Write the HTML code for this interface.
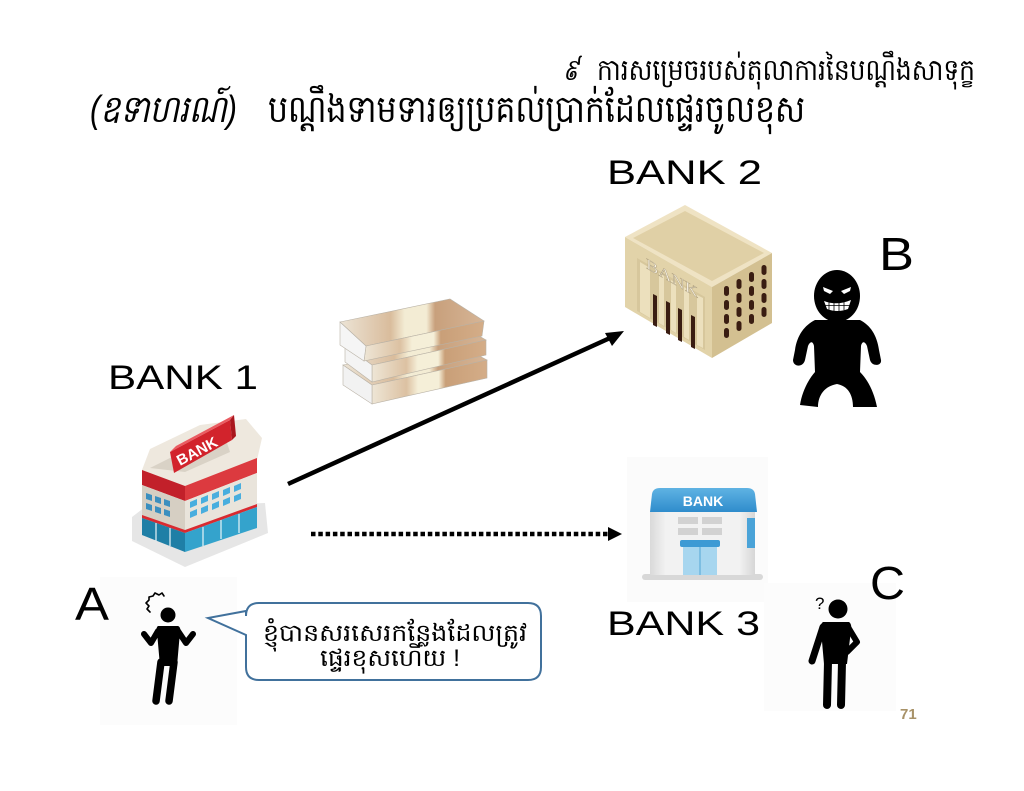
<!DOCTYPE html>
<html><head><meta charset="utf-8">
<style>
html,body{margin:0;padding:0;background:#fff;}
body{width:1024px;height:791px;overflow:hidden;}
svg{display:block;}
.lat{font-family:"Liberation Sans",sans-serif;fill:#000;}
.km{font-family:"Liberation Sans","Noto Sans CJK SC",sans-serif;fill:#000;}
</style></head>
<body>
<svg width="1024" height="791" viewBox="0 0 1024 791" xmlns="http://www.w3.org/2000/svg">
<defs>
<linearGradient id="mfront" x1="0" y1="0" x2="1" y2="0">
<stop offset="0" stop-color="#eee6d6"/><stop offset="0.3" stop-color="#dcc1a2"/>
<stop offset="0.4" stop-color="#f5efd8"/><stop offset="0.58" stop-color="#f5efd8"/>
<stop offset="0.64" stop-color="#c99f78"/><stop offset="1" stop-color="#d4ad88"/>
</linearGradient>
<linearGradient id="mtop" x1="0" y1="0" x2="1" y2="0">
<stop offset="0" stop-color="#ece4d6"/><stop offset="0.35" stop-color="#d9bc9c"/>
<stop offset="0.45" stop-color="#f3ecd4"/><stop offset="0.6" stop-color="#f3ecd4"/>
<stop offset="0.66" stop-color="#c8a07c"/><stop offset="1" stop-color="#d6b596"/>
</linearGradient>
<linearGradient id="b3roof" x1="0" y1="0" x2="0" y2="1">
<stop offset="0" stop-color="#5fb3e3"/><stop offset="1" stop-color="#2f8ccc"/>
</linearGradient>
<linearGradient id="b3body" x1="0" y1="0" x2="1" y2="0">
<stop offset="0" stop-color="#d9d9d9"/><stop offset="0.15" stop-color="#f2f2f2"/>
<stop offset="0.85" stop-color="#f2f2f2"/><stop offset="1" stop-color="#d6d6d6"/>
</linearGradient>
</defs>

<!-- faint photo backgrounds (drawn first) -->
<rect x="100" y="577" width="137" height="148" fill="#fcfcfc"/>
<rect x="627" y="457" width="141" height="145" fill="#fbfbfb"/>
<rect x="764" y="583" width="132" height="128" fill="#fcfcfc"/>

<!-- Title -->
<text class="km" x="563" y="80" font-size="30" font-style="italic" textLength="16" lengthAdjust="spacingAndGlyphs">៩</text>
<text class="km" x="597" y="80" font-size="30" textLength="378" lengthAdjust="spacingAndGlyphs">ការសម្រេចរបស់តុលាការនៃបណ្ដឹងសាទុក្ខ</text>
<text class="km" x="90" y="122" font-size="38" font-style="italic" textLength="147" lengthAdjust="spacingAndGlyphs">(ឧទាហរណ៍)</text>
<text class="km" x="268" y="122" font-size="38" textLength="537" lengthAdjust="spacingAndGlyphs">បណ្ដឹងទាមទារឲ្យប្រគល់ប្រាក់ដែលផ្ទេរចូលខុស</text>

<!-- Labels -->
<text class="lat" x="108" y="389" font-size="34" textLength="150" lengthAdjust="spacingAndGlyphs">BANK  1</text>
<text class="lat" x="607" y="184" font-size="34" textLength="155" lengthAdjust="spacingAndGlyphs">BANK  2</text>
<text class="lat" x="607" y="635" font-size="34" textLength="153" lengthAdjust="spacingAndGlyphs">BANK  3</text>
<text class="lat" x="879" y="270" font-size="46" textLength="35" lengthAdjust="spacingAndGlyphs">B</text>
<text class="lat" x="870" y="599" font-size="46" textLength="35" lengthAdjust="spacingAndGlyphs">C</text>
<text class="lat" x="75" y="620" font-size="46" textLength="34" lengthAdjust="spacingAndGlyphs">A</text>

<!-- Money stack -->
<g stroke="#b9b2a6" stroke-width="0.6">
<polygon points="343,365 455,343 487,360 372,385" fill="url(#mtop)"/>
<polygon points="372,385 487,360 487,378 372,404" fill="url(#mfront)"/>
<polygon points="343,365 372,385 372,404 343,385" fill="#f2f2f2"/>
<polygon points="345,345 455,322 486,340 372,365" fill="url(#mtop)"/>
<polygon points="372,365 486,340 486,355 372,382" fill="url(#mfront)"/>
<polygon points="345,345 372,365 372,382 345,362" fill="#f4f4f4"/>
<polygon points="340,322 450,299 484,321 366,346" fill="url(#mtop)"/>
<polygon points="366,346 484,321 482,336 364,361" fill="url(#mfront)"/>
<polygon points="340,322 366,346 364,361 340,345" fill="#f5f5f5"/>
</g>

<!-- Arrows -->
<line x1="288" y1="484" x2="610" y2="338" stroke="#000" stroke-width="4.5"/>
<polygon points="624,331 605,333 612,346" fill="#000"/>
<line x1="311" y1="534" x2="610" y2="534" stroke="#000" stroke-width="4.5" stroke-dasharray="4.5 2.8"/>
<polygon points="622,534 608,527 608,541" fill="#000"/>

<!-- BANK 1 (red/white) -->
<polygon points="132,517 145,507 265,503 268,533 185,567 132,541" fill="#e6e6e6"/>
<polygon points="142,470 150,449 200,425 246,419 262,438 257,460 185,488" fill="#eee8de"/>
<polygon points="150,468 190,448 226,440 230,452 185,472" fill="#d9d2c6"/>
<polygon points="170,452 230,420 232,440 174,473" fill="#d2232c"/>
<polygon points="170,452 176,446 234,415 230,420" fill="#ea5b61"/>
<polygon points="230,420 234,415 236,436 232,440" fill="#a9161d"/>
<text x="0" y="0" transform="translate(180,466) rotate(-28)" font-family="Liberation Sans,sans-serif" font-weight="bold" font-size="15" fill="#fff" textLength="44" lengthAdjust="spacingAndGlyphs">BANK</text>
<polygon points="142,470 185,486 185,501 142,485" fill="#c2202a"/>
<polygon points="185,486 257,458 257,473 185,501" fill="#dc3a3f"/>
<polygon points="142,485 185,501 185,552 142,531" fill="#d6cfc3"/>
<polygon points="185,501 257,473 257,528 185,552" fill="#e9e4db"/>
<g fill="#3b8fbf">
<polygon points="146,493 152,495 152,501 146,499"/><polygon points="155,496 161,498 161,504 155,502"/><polygon points="164,499 170,501 170,507 164,505"/>
<polygon points="146,503 152,505 152,511 146,509"/><polygon points="155,506 161,508 161,514 155,512"/><polygon points="164,509 170,511 170,517 164,515"/>
</g>
<g fill="#49aede">
<polygon points="190,502 197,499 197,505 190,508"/><polygon points="201,498 208,495 208,501 201,504"/><polygon points="212,494 219,491 219,497 212,500"/><polygon points="223,490 230,487 230,493 223,496"/><polygon points="234,486 241,483 241,489 234,492"/>
<polygon points="190,512 197,509 197,515 190,518"/><polygon points="201,508 208,505 208,511 201,514"/><polygon points="212,504 219,501 219,507 212,510"/><polygon points="223,500 230,497 230,503 223,506"/><polygon points="234,496 241,493 241,499 234,502"/>
</g>
<polygon points="142,515 185,530 257,504 257,507 185,533 142,518" fill="#d92a30"/>
<polygon points="142,518 185,533 185,552 142,535" fill="#1f7fa6"/>
<polygon points="185,533 257,507 257,528 185,552" fill="#34a3cc"/>
<g stroke="#e9f4f8" stroke-width="1.2">
<line x1="156" y1="523" x2="156" y2="541"/><line x1="170" y1="528" x2="170" y2="546"/>
<line x1="203" y1="527" x2="203" y2="546"/><line x1="221" y1="520" x2="221" y2="539"/><line x1="239" y1="514" x2="239" y2="533"/>
</g>

<!-- BANK 2 (beige) -->
<polygon points="625,237 685,205 772,253 712,287" fill="#efe3c4"/>
<polygon points="633,238 685,211 764,253 712,281" fill="#e0d0a6"/>
<polygon points="625,237 712,287 712,358 625,307" fill="#e2d3a9"/>
<polygon points="712,287 772,253 772,323 712,358" fill="#d3c091"/>
<polygon points="637,258 705,297 705,350 637,311" fill="#d7c79c"/>
<g fill="#ece0bd">
<polygon points="640,262 650,268 650,318 640,312"/>
<polygon points="659,273 664,276 664,326 659,323"/>
<polygon points="671,280 676,283 676,333 671,330"/>
<polygon points="684,287 689,290 689,340 684,337"/>
<polygon points="697,295 703,298 703,348 697,345"/>
</g>
<g fill="#3a1d12">
<polygon points="653,294 657,296 657,327 653,325"/>
<polygon points="666,301 670,303 670,335 666,333"/>
<polygon points="678,308 682,310 682,342 678,340"/>
<polygon points="691,315 695,317 695,349 691,347"/>
</g>
<text x="0" y="0" transform="translate(646,268) skewY(30)" font-family="Liberation Serif,serif" font-size="15" fill="#f7f2e6" stroke="#a99a78" stroke-width="0.4" textLength="52" lengthAdjust="spacingAndGlyphs">BANK</text>
<g fill="#3a1d12">
<rect x="724" y="286" width="5" height="10" rx="2.5"/><rect x="736.5" y="279" width="5" height="10" rx="2.5"/><rect x="749" y="272" width="5" height="10" rx="2.5"/><rect x="761.5" y="265" width="5" height="10" rx="2.5"/>
<rect x="724" y="300" width="5" height="10" rx="2.5"/><rect x="736.5" y="293" width="5" height="10" rx="2.5"/><rect x="749" y="286" width="5" height="10" rx="2.5"/><rect x="761.5" y="279" width="5" height="10" rx="2.5"/>
<rect x="724" y="314" width="5" height="10" rx="2.5"/><rect x="736.5" y="307" width="5" height="10" rx="2.5"/><rect x="749" y="300" width="5" height="10" rx="2.5"/><rect x="761.5" y="293" width="5" height="10" rx="2.5"/>
<rect x="724" y="328" width="5" height="10" rx="2.5"/><rect x="736.5" y="321" width="5" height="10" rx="2.5"/><rect x="749" y="314" width="5" height="10" rx="2.5"/><rect x="761.5" y="307" width="5" height="10" rx="2.5"/>
</g>

<!-- Thief B -->
<g fill="#000">
<ellipse cx="837" cy="296" rx="23" ry="26"/>
<path d="M815 320 C805 325,797 335,795 350 L793 360 C793 367,803 368,805 360 L808 346 C810 341,813 341,814 346 L815 372 C808 380,802 392,800 405 L818 407 C818 395,825 386,837 384 C848 386,853 395,853 407 L877 407 C874 392,868 380,860 372 L861 346 C862 341,865 341,867 346 L870 360 C872 367,882 366,881 360 L879 350 C877 335,870 325,860 320 Z"/>
</g>
<g fill="#fff">
<polygon points="823,287 833,291 830,294 824,291"/>
<polygon points="851,287 841,291 844,294 850,291"/>
<path d="M824 301 Q837 306 851 300 L848 309 Q837 313 827 309 Z"/>
</g>
<g stroke="#000" stroke-width="0.8">
<line x1="829" y1="302" x2="829" y2="310"/><line x1="834" y1="303" x2="834" y2="311"/><line x1="839" y1="303" x2="839" y2="311"/><line x1="844" y1="302" x2="844" y2="310"/>
<line x1="825" y1="305.5" x2="850" y2="305.5"/>
</g>

<!-- BANK 3 (blue) -->
<rect x="642" y="574" width="121" height="6" rx="3" fill="#d8d8d8"/>
<rect x="650" y="511" width="105" height="64" fill="url(#b3body)"/>
<path d="M650 512 L652 494 Q653 488 660 488 L747 488 Q754 488 755 494 L757 512 Z" fill="url(#b3roof)"/>
<text x="703" y="506" text-anchor="middle" font-family="Liberation Sans,sans-serif" font-weight="bold" font-size="14" fill="#fff">BANK</text>
<rect x="747" y="518" width="8" height="30" fill="#4aa3d8"/>
<g fill="#d2d2d2">
<rect x="678" y="517" width="20" height="7"/><rect x="702" y="517" width="20" height="7"/>
<rect x="678" y="528" width="20" height="7"/><rect x="702" y="528" width="20" height="7"/>
</g>
<rect x="680" y="540" width="40" height="7" rx="2" fill="#3d9ad4"/>
<rect x="683" y="547" width="34" height="28" fill="#a7d6ef"/>
<line x1="700" y1="547" x2="700" y2="575" stroke="#6fb6de" stroke-width="1.5"/>

<!-- Person A -->
<g stroke="#000" stroke-linecap="round" stroke-linejoin="round" fill="none">
<path d="M150 612 l-3 -3 l2 -3 l-3 -3 l3 -3 l0 -3 l4 -1 l2 -3 l4 2 l3 -2 l2 3" stroke-width="1.6"/>
<polyline points="158,631 151,643 144,634" stroke-width="6"/>
<polyline points="178,631 186,643 193,634" stroke-width="6"/>
<line x1="161" y1="662" x2="156" y2="701" stroke-width="7.5"/>
<line x1="174" y1="662" x2="169" y2="701" stroke-width="7.5"/>
</g>
<circle cx="168" cy="615" r="7.5" fill="#000"/>
<path d="M158 626 L178 626 Q181 627 180 632 L177 666 L160 666 L157 632 Q156 627 158 626 Z" fill="#000"/>

<!-- Bubble -->
<path d="M259 603 L528 603 Q541 603 541 616 L541 667 Q541 680 528 680 L259 680 Q246 680 246 667 L246 635 L208 618 L246 611 L246 616 Q246 603 259 603 Z" fill="#fff" stroke="#41719c" stroke-width="2"/>
<text class="km" x="263" y="641" font-size="24" textLength="264" lengthAdjust="spacingAndGlyphs">ខ្ញុំបានសរសេរកន្លែងដែលត្រូវ</text>
<text class="km" x="320" y="666" font-size="24" textLength="140" lengthAdjust="spacingAndGlyphs">ផ្ទេរខុសហើយ !</text>

<!-- Person C -->
<text x="815" y="609" font-family="Liberation Sans,sans-serif" font-size="17" fill="#000">?</text>
<circle cx="838" cy="609" r="9.5" fill="#000"/>
<path d="M823 622 L849 622 Q852 624 851 630 L847 664 L824 664 L821 630 Q820 624 823 622 Z" fill="#000"/>
<g stroke="#000" stroke-linecap="round" stroke-linejoin="round" fill="none">
<line x1="823" y1="627" x2="812" y2="661" stroke-width="7"/>
<polyline points="848,627 857,642 847,652" stroke-width="6"/>
<line x1="828" y1="662" x2="827" y2="705" stroke-width="8"/>
<line x1="842" y1="662" x2="841" y2="705" stroke-width="8"/>
</g>

<!-- page number -->
<text x="900" y="719" font-family="Liberation Sans,sans-serif" font-weight="bold" font-size="15" fill="#a89268">71</text>
</svg>
</body></html>
